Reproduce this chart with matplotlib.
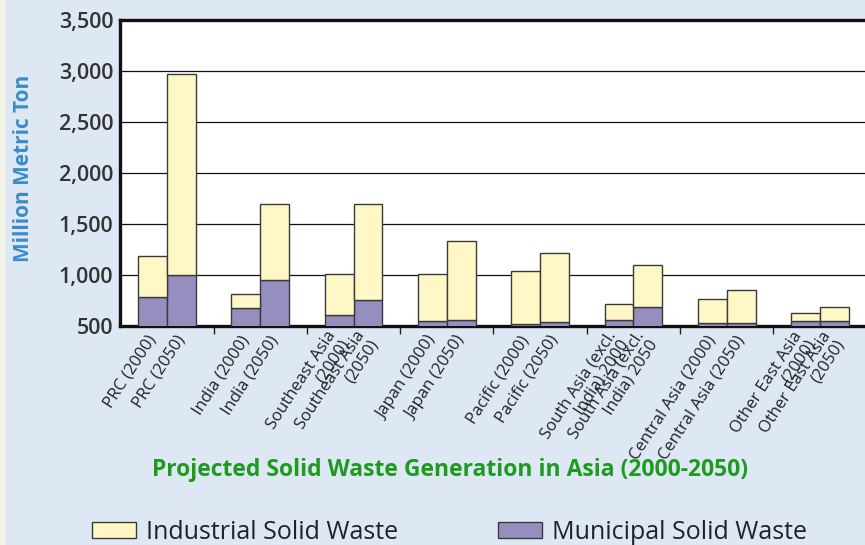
import matplotlib
matplotlib.use("Agg")
import matplotlib.pyplot as plt
import numpy as np

plt.rcParams['font.family'] = ['Open Sans', 'DejaVu Sans']

# data (million metric ton)
regions = ["PRC", "India", "Southeast Asia", "Japan", "Pacific",
           "South Asia", "Central Asia", "Other East Asia"]
tick_labels = ["PRC (2000)", "PRC (2050)",
               "India (2000)", "India (2050)",
               "Southeast Asia\n(2000)", "Southeast Asia\n(2050)",
               "Japan (2000)", "Japan (2050)",
               "Pacific (2000)", "Pacific (2050)",
               "South Asia (excl.\nIndia) 2000", "South Asia (excl.\nIndia) 2050",
               "Central Asia (2000)", "Central Asia (2050)",
               "Other East Asia\n(2000)", "Other East Asia\n(2050)"]
municipal = [780, 1000, 680, 950, 610, 750, 550, 560,
             520, 540, 560, 690, 530, 530, 550, 545]
industrial = [410, 1970, 130, 750, 400, 950, 460, 770,
              520, 680, 155, 410, 235, 320, 75, 140]

bg = '#dde8f4'
yellow = '#fff8c6'
purple = '#948fbf'

fig = plt.figure(figsize=(8.65, 5.45), dpi=100, facecolor=bg)
# pale strip along the left edge of the original
fig.add_artist(plt.Rectangle((0, 0), 0.005, 1, transform=fig.transFigure,
                             color='#f3f3e6', zorder=0))
ax = fig.add_axes([0.139, 0.402, 0.863, 0.561])
ax.set_facecolor('white')

w = 0.31
x = []
for i in range(len(regions)):
    x += [i - w / 2, i + w / 2]
x = np.array(x)

ax.bar(x, municipal, width=w, color=purple, edgecolor='#3a3a3a',
       linewidth=1, zorder=3, label='Municipal Solid Waste')
ax.bar(x, industrial, width=w, bottom=municipal, color=yellow,
       edgecolor='#3a3a3a', linewidth=1, zorder=3, label='Industrial Solid Waste')

ax.set_ylim(500, 3500)
ax.set_xlim(-0.5, len(regions) - 0.5)
ax.set_yticks(range(500, 3501, 500))
ax.set_yticklabels([f"{v:,}" for v in range(500, 3501, 500)],
                   fontsize=15.5, color='#333333', fontweight='semibold')
ax.tick_params(axis='y', length=0, pad=5)
for v in range(1000, 3001, 500):
    ax.axhline(v, color='#111111', lw=0.9, zorder=1)

ax.set_xticks(x)
ax.set_xticklabels(tick_labels, rotation=57, ha='right', va='center',
                   rotation_mode='anchor', fontsize=12, color='#222222',
                   multialignment='right', linespacing=1.0)
ax.tick_params(axis='x', which='major', length=0, pad=8)
ax.set_xticks(np.arange(0.5, len(regions) - 0.5), minor=True)
ax.tick_params(axis='x', which='minor', length=6, width=1, color='#222222')

for s in ['left', 'bottom', 'top']:
    ax.spines[s].set_linewidth(2.4)
    ax.spines[s].set_color('#111111')
ax.spines['right'].set_visible(False)

ax.set_ylabel("Million Metric Ton", fontsize=15, fontweight='bold',
              color='#3a8cc9')
ax.yaxis.set_label_coords(-0.115, 0.515)

fig.text(0.52, 0.137, "Projected Solid Waste Generation in Asia (2000-2050)",
         ha='center', va='center', fontsize=16.5, fontweight='bold', color='#1e9a1e')

handles, labels = ax.get_legend_handles_labels()
fig.legend(handles[::-1], labels[::-1], loc='center', bbox_to_anchor=(0.52, 0.023),
           ncol=2, frameon=False, fontsize=18, handlelength=1.76, handleheight=0.64,
           columnspacing=4.0, handletextpad=0.4, labelcolor='#222222')

fig.savefig("out.png", dpi=100, facecolor=bg)
